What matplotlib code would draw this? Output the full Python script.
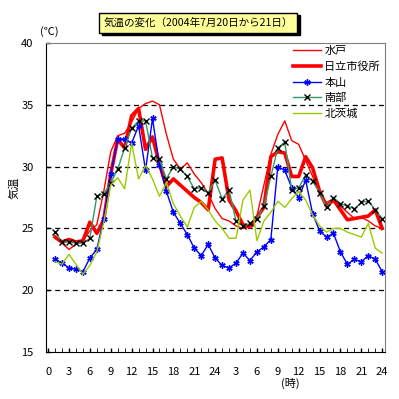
import matplotlib.pyplot as plt
from matplotlib.patches import Rectangle

plt.rcParams['font.family'] = ['Noto Sans CJK JP', 'DejaVu Sans']

# hourly temperatures, 2004-07-20 1時 .. 07-21 24時
hours = list(range(1, 49))
mito = [24.2, 23.8, 23.3, 23.7, 24.0, 24.8, 25.3, 28.0, 31.2, 32.5, 32.7, 33.6,
        34.7, 35.1, 35.3, 35.0, 32.6, 30.6, 29.8, 30.3, 29.4, 28.7, 27.8, 26.6,
        25.8, 25.6, 25.2, 25.0, 25.2, 26.0, 28.5, 31.0, 32.6, 33.7, 32.1, 31.8,
        30.5, 29.2, 27.8, 27.1, 27.4, 26.8, 26.3, 25.8, 25.9, 25.6, 25.2, 25.0]
hitachi = [24.3, 23.9, 24.1, 23.9, 24.0, 25.5, 24.6, 25.7, 29.4, 32.2, 31.5, 34.1,
           34.7, 31.4, 32.4, 30.2, 28.4, 29.0, 28.5, 28.0, 27.5, 27.1, 26.5, 30.6,
           30.7, 27.3, 26.4, 25.3, 25.1, 25.9, 26.7, 30.8, 31.2, 31.1, 29.2, 29.2,
           30.8, 29.9, 28.0, 26.8, 27.3, 26.5, 25.7, 25.8, 25.9, 26.0, 26.5, 25.0]
motoyama = [22.5, 22.2, 21.8, 21.7, 21.5, 22.6, 23.3, 25.8, 29.4, 32.2, 32.2, 31.9,
            33.3, 29.7, 33.9, 30.1, 28.0, 26.3, 25.4, 24.5, 23.4, 22.8, 23.7, 22.6,
            22.0, 21.8, 22.2, 23.0, 22.4, 23.1, 23.5, 24.1, 30.0, 29.7, 28.3, 27.5,
            28.9, 26.2, 24.8, 24.3, 24.6, 23.1, 22.1, 22.5, 22.3, 22.8, 22.5, 21.5]
nanbu = [24.7, 23.9, 23.9, 23.8, 23.8, 24.2, 27.6, 27.8, 28.7, 29.8, 31.5, 33.1,
         33.7, 33.7, 30.7, 30.6, 29.0, 30.0, 29.8, 29.2, 28.2, 28.3, 27.9, 28.9,
         27.4, 28.1, 25.6, 25.2, 25.4, 25.8, 26.8, 29.2, 31.5, 32.0, 28.1, 28.3,
         29.3, 28.8, 27.9, 26.7, 27.5, 27.0, 26.8, 26.6, 27.1, 27.2, 26.5, 25.8]
kitaibaraki = [22.3, 22.1, 22.9, 22.1, 21.3, 22.0, 23.1, 25.5, 28.5, 29.1, 28.2, 31.9,
               29.0, 30.1, 29.0, 27.6, 28.7, 27.0, 26.0, 25.1, 26.7, 27.2, 26.5, 25.6,
               25.0, 24.2, 24.2, 27.3, 28.1, 24.0, 25.6, 26.3, 27.2, 26.7, 27.4, 28.0,
               27.3, 26.1, 25.2, 24.7, 25.0, 25.0, 24.7, 24.5, 24.3, 25.4, 23.4, 23.0]

tick_pos = list(range(0, 49, 3))
tick_labels = ['0', '3', '6', '9', '12', '15', '18', '21', '24',
               '3', '6', '9', '12', '15', '18', '21', '24']

fig = plt.figure(figsize=(3.99, 3.99), dpi=100)
ax = fig.add_axes([46/399, 1-352/399, 339/399, 309/399])

for y in [20, 25, 30, 35]:
    ax.axhline(y, color='black', lw=0.9, ls=(0, (4, 3)), zorder=1)

ax.plot(hours, mito, color='#FF0000', lw=1, label='水戸')
ax.plot(hours, hitachi, color='#FF0000', lw=2.6, label='日立市役所')
ax.plot(hours, motoyama, color='#0000FF', lw=1, marker=(6, 2, 0), ms=4.5, mew=1,
        mec='#0000FF', label='本山')
ax.plot(hours, nanbu, color='#339966', lw=1, marker='x', ms=4, mew=1,
        mec='black', label='南部')
ax.plot(hours, kitaibaraki, color='#99CC00', lw=1, label='北茨城')

ax.set_xlim(-0.3, 48.4)
ax.set_ylim(15, 40)
ax.set_yticks([15, 20, 25, 30, 35, 40])
ax.set_xticks(tick_pos, tick_labels)
ax.set_xticks(range(0, 49), minor=True)
ax.tick_params(direction='in', labelsize=8, length=3, width=1)
ax.tick_params(axis='x', which='both', direction='in', length=3, pad=11)
ax.tick_params(axis='y', pad=9)
for s in ['top', 'right']:
    ax.spines[s].set_color('#808080')

ax.legend(loc='upper left', bbox_to_anchor=(0.729, 0.99), frameon=False,
          fontsize=8, handlelength=2.5, handletextpad=0.3, labelspacing=0.5,
          borderpad=0, borderaxespad=0)

# title box with shadow
fig.patches.append(Rectangle((101.5/399, 1-35/399), 198/399, 20/399,
                             transform=fig.transFigure, color='black', zorder=0))
fig.patches.append(Rectangle((99/399, 1-33/399), 198/399, 20/399,
                             transform=fig.transFigure, facecolor='#FFFF99',
                             edgecolor='black', lw=1, zorder=1))
fig.text(198/399, 1-23/399, '気温の変化（2004年7月20日から21日）', ha='center',
         va='center', fontsize=7.6, zorder=2)

fig.text(49/399, 1-32/399, '(℃)', ha='center', va='center', fontsize=8)
fig.text(14/399, 1-188/399, '気温', ha='center', va='center', fontsize=8,
         rotation=90)
fig.text(290/399, 1-383/399, '(時)', ha='center', va='center', fontsize=8)

plt.savefig('out.png', dpi=100)
